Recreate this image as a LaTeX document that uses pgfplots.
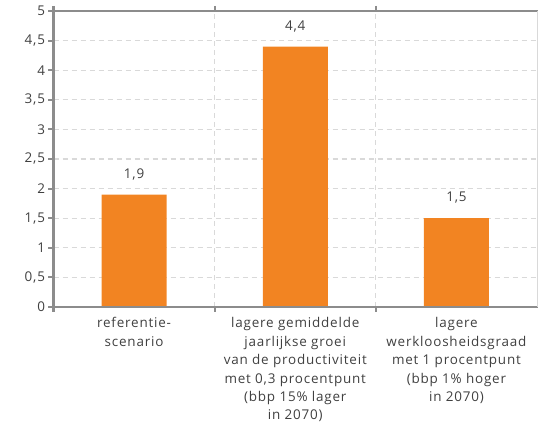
\documentclass[border=0pt]{standalone}
\usepackage{pgfplots}
\pgfplotsset{compat=1.18}
\usepackage{fontspec}
\setmainfont{Open Sans}[LetterSpace=6]
\definecolor{barorange}{HTML}{F28422}
\definecolor{axgray}{HTML}{8C8C8C}
\definecolor{gridgray}{HTML}{D9D9D9}
\definecolor{txt}{HTML}{404040}
\begin{document}
\begin{tikzpicture}
\begin{axis}[
  scale only axis,
  width=483.5bp, height=296bp,
  xmin=-0.5, xmax=2.5, ymin=0, ymax=5,
  ytick={0,0.5,...,5},
  xtick={0,1,2},
  xticklabels={{referentie-\\scenario},
    {lagere gemiddelde\\jaarlijkse groei\\van de productiviteit\\met 0,3 procentpunt\\(bbp 15\% lager\\in 2070)},
    {lagere\\werkloosheidsgraad\\met 1 procentpunt\\(bbp 1\% hoger\\in 2070)}},
  xticklabel style={align=center, font=\fontsize{13.5}{18.5}\selectfont, text=txt, yshift=-2bp},
  yticklabel style={font=\fontsize{13.5}{15}\selectfont, text=txt},
  /pgf/number format/assume math mode=true,
  /pgf/number format/use comma,
  axis line style={draw=none},
  ymajorgrids,
  major grid style={gridgray, dashed, line width=1.2bp, dash pattern=on 5bp off 4bp},
  major tick length=5bp,
  tick align=outside,
  ytick style={axgray, line width=2bp},
  xtick style={draw=none},
  extra x ticks={-0.5,0.5,1.5},
  extra x tick labels={},
  extra x tick style={xmajorgrids=true, xtick style={axgray, line width=2bp, draw=axgray}},
  ybar, bar width=65bp,
  nodes near coords,
  nodes near coords style={font=\fontsize{13.5}{15}\selectfont, text=txt, yshift=11bp,
    /pgf/number format/fixed, /pgf/number format/precision=1, /pgf/number format/fixed zerofill},
  clip=false,
  after end axis/.code={
    \draw[gridgray, line width=1bp] (rel axis cs:1,0) -- (rel axis cs:1,1);
    \draw[axgray, line width=2.2bp] (rel axis cs:0,0) -- (rel axis cs:0,1) -- (rel axis cs:1,1);
    \draw[axgray, line width=2.2bp] (rel axis cs:0,0) -- (rel axis cs:1,0);
  },
]
\addplot[fill=barorange, draw=none] coordinates {(0,1.9) (1,4.4) (2,1.5)};
\end{axis}
\pgfresetboundingbox
\path (current axis.south west) ++(-53.5bp,-118bp) coordinate (bl);
\path (current axis.north east) ++(1bp,11bp) coordinate (tr);
\path (bl) rectangle (tr);
\end{tikzpicture}
\end{document}
